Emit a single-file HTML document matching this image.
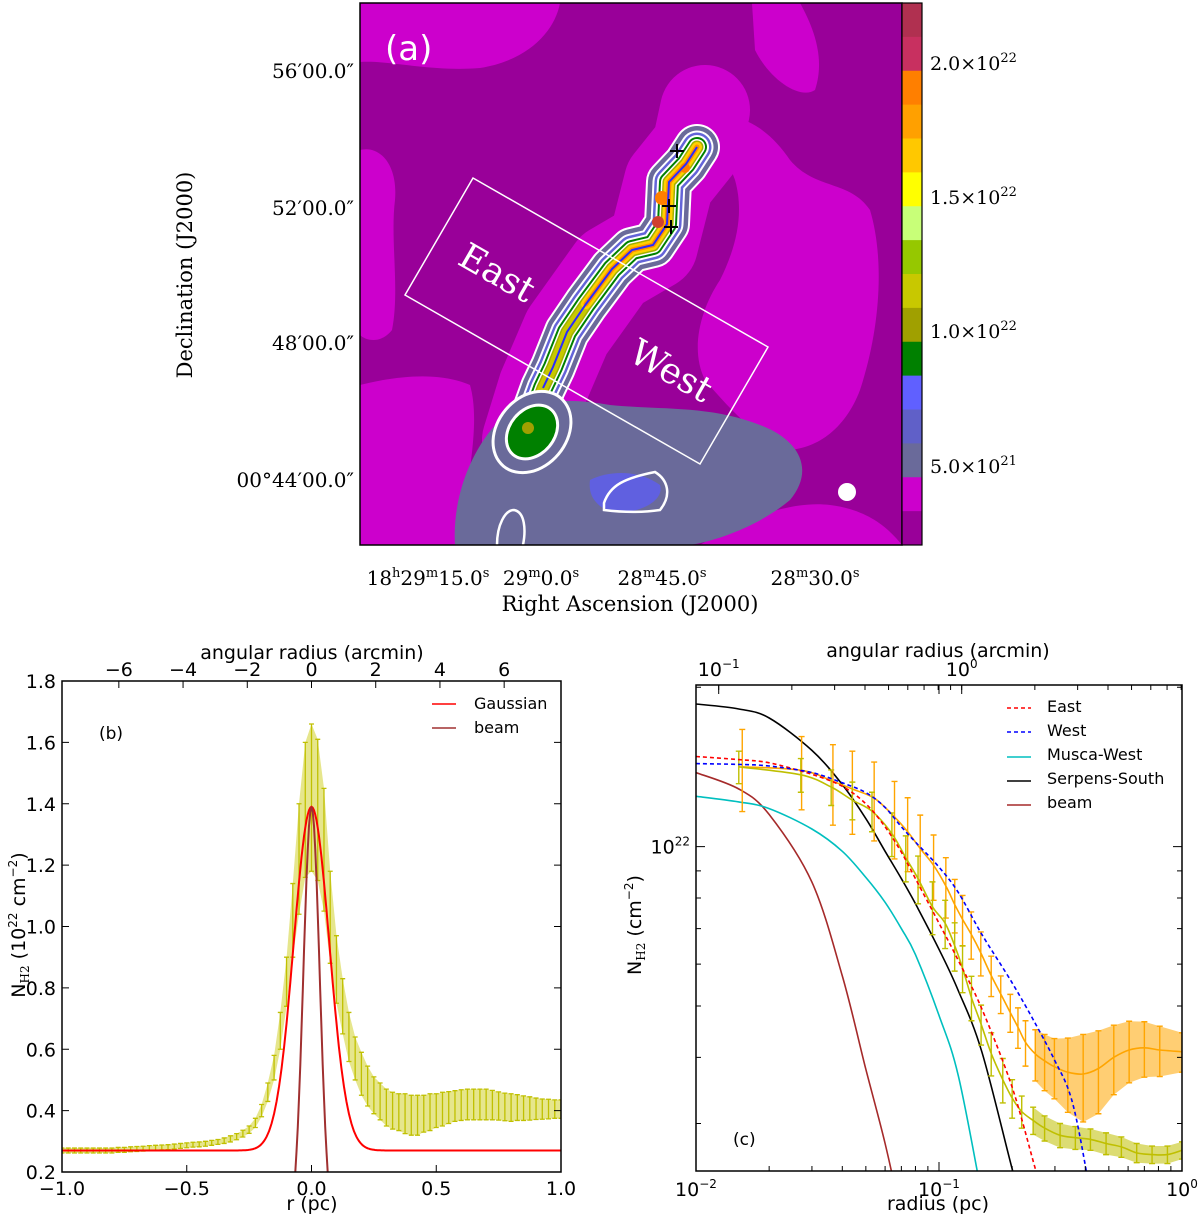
<!DOCTYPE html>
<html><head><meta charset="utf-8"><style>
html,body{margin:0;padding:0;background:#fff;overflow:hidden;width:1200px;height:1221px;}
svg{display:block;}
.ser{font-family:"DejaVu Serif","Liberation Serif",serif;}
.sans{font-family:"DejaVu Sans","Liberation Sans",sans-serif;}
</style></head><body>
<svg id="fig" width="1200" height="1221" viewBox="0 0 1200 1221" xmlns="http://www.w3.org/2000/svg">
<defs>
<clipPath id="clipA"><rect x="360" y="3" width="542" height="542"/></clipPath>
<clipPath id="clipB"><rect x="62" y="681" width="499" height="491"/></clipPath>
<clipPath id="clipC"><rect x="696" y="685" width="486" height="486"/></clipPath>
</defs>

<!-- PANEL A -->
<g id="panelA">
<g clip-path="url(#clipA)">
<rect x="360" y="3" width="542" height="542" fill="#990099"/>
<path d="M360,3 L560,3 C555,30 530,60 480,68 C430,72 390,60 360,62 Z" fill="#cc00cc"/>
<path d="M360,150 C380,145 398,165 395,200 C390,240 400,290 392,330 C380,345 365,340 360,335 Z" fill="#cc00cc"/>
<path d="M752,3 L800,3 C815,30 825,60 815,90 C800,100 770,80 755,50 Z" fill="#cc00cc"/>
<path d="M715,120 C740,110 770,130 790,160 C815,190 850,180 870,210 C885,260 880,330 860,390 C845,430 815,450 785,450 C760,440 730,410 705,380 C690,350 700,310 720,280 C735,250 745,215 735,180 C725,150 705,135 715,120 Z" fill="#cc00cc"/>
<path d="M360,385 C400,375 440,372 470,385 C480,420 470,470 458,545 L360,545 Z" fill="#cc00cc"/>
<path d="M700,545 C740,520 790,500 830,505 C870,510 890,530 902,545 Z" fill="#cc00cc"/>
<path d="M527,440 L543,388 L567,332 L612,269 L653,245 L669,182 L697,147 L705,110" fill="none" stroke="#cc00cc" stroke-width="90" stroke-linecap="round" stroke-linejoin="round"/>
<path d="M455,545 C452,500 470,450 500,420 C530,398 570,398 610,405 C660,410 710,405 760,425 C800,440 815,470 790,500 C760,525 720,540 690,545 Z" fill="#6a6a9a"/>
<path d="M590,480 C610,470 640,470 660,485 C665,500 640,515 610,512 C595,505 588,495 590,480 Z" fill="#6060e0"/>
<g id="filament"></g>
<polyline points="543,388 553,367 567,332 586,304 612,269 632,250 653,245 667,224 669,182 686,164 697,147" fill="none" stroke="#2a2aff" stroke-width="2"/>
<path d="M604,503 C610,485 625,478 655,472 C668,480 672,495 660,510 C640,513 620,512 604,510 Z" fill="none" stroke="#fff" stroke-width="2.5"/>
<path d="M497,545 C497,525 505,510 514,510 C525,512 526,530 523,545" fill="none" stroke="#fff" stroke-width="2.5"/>
<g stroke="#000" stroke-width="2">
<path d="M670,151h14M677,144v14"/><path d="M662,206h14M669,199v14"/><path d="M664,227h14M671,220v14"/>
</g>
<polygon points="473,178 768,347 700,464 405,295" fill="none" stroke="#fff" stroke-width="1.5"/>
<text x="497" y="285" transform="rotate(29.8 497 273)" text-anchor="middle" font-size="36" fill="#fff" class="ser">East</text>
<text x="671" y="383" transform="rotate(29.8 671 371)" text-anchor="middle" font-size="36" fill="#fff" class="ser">West</text>
<circle cx="847" cy="492" r="9" fill="#fff"/>
<text x="385" y="60" font-size="34" fill="#fff" class="sans">(a)</text>
</g>
<rect x="360" y="3" width="542" height="542" fill="none" stroke="#000" stroke-width="1.5"/>
<g id="colorbar"></g>
<g class="ser" font-size="19" fill="#000">
<text x="930" y="70">2.0×10<tspan dy="-8" font-size="13">22</tspan></text>
<text x="930" y="204">1.5×10<tspan dy="-8" font-size="13">22</tspan></text>
<text x="930" y="338">1.0×10<tspan dy="-8" font-size="13">22</tspan></text>
<text x="930" y="473">5.0×10<tspan dy="-8" font-size="13">21</tspan></text>
</g>
<g class="ser" font-size="20" fill="#000" text-anchor="end">
<text x="354" y="78">56′00.0″</text><text x="354" y="215">52′00.0″</text>
<text x="354" y="350">48′00.0″</text><text x="354" y="487">00°44′00.0″</text>
</g>
<text transform="translate(192,275) rotate(-90)" text-anchor="middle" font-size="21" class="ser">Declination (J2000)</text>
<g class="ser" font-size="20" fill="#000" text-anchor="middle">
<text x="428" y="585">18<tspan dy="-8" font-size="13">h</tspan><tspan dy="8">29</tspan><tspan dy="-8" font-size="13">m</tspan><tspan dy="8">15.0</tspan><tspan dy="-8" font-size="13">s</tspan></text>
<text x="541" y="585">29<tspan dy="-8" font-size="13">m</tspan><tspan dy="8">0.0</tspan><tspan dy="-8" font-size="13">s</tspan></text>
<text x="662" y="585">28<tspan dy="-8" font-size="13">m</tspan><tspan dy="8">45.0</tspan><tspan dy="-8" font-size="13">s</tspan></text>
<text x="815" y="585">28<tspan dy="-8" font-size="13">m</tspan><tspan dy="8">30.0</tspan><tspan dy="-8" font-size="13">s</tspan></text>
</g>
<text x="630" y="611" text-anchor="middle" font-size="21" class="ser">Right Ascension (J2000)</text>
</g>

<!-- PANEL B -->
<g id="panelB">
<g clip-path="url(#clipB)">
<g id="bBand"></g>
<g id="bBars"></g>
<path id="bGauss" fill="none" stroke="#ff0000" stroke-width="2"/>
<path id="bBeam" fill="none" stroke="#a03030" stroke-width="2"/>
</g>
<rect x="62" y="681" width="499" height="491" fill="none" stroke="#000" stroke-width="1.5"/>
<g id="bAxes" class="sans" font-size="19"></g>
<text x="312" y="659" text-anchor="middle" class="sans" font-size="19">angular radius (arcmin)</text>
<text x="312" y="1210" text-anchor="middle" class="sans" font-size="19">r (pc)</text>
<text transform="translate(25,925) rotate(-90)" text-anchor="middle" class="sans" font-size="19">N<tspan font-size="12" dy="4" class="ser">H2</tspan><tspan dy="-4"> (10</tspan><tspan font-size="12" dy="-8">22</tspan><tspan dy="8"> cm</tspan><tspan font-size="12" dy="-8">−2</tspan><tspan dy="8">)</tspan></text>
<text x="99" y="739" class="sans" font-size="17">(b)</text>
<g class="sans" font-size="16">
<line x1="432" y1="704" x2="456" y2="704" stroke="#ff0000" stroke-width="1.5"/>
<text x="474" y="709">Gaussian</text>
<line x1="432" y1="728" x2="456" y2="728" stroke="#a03030" stroke-width="1.5"/>
<text x="474" y="733">beam</text>
</g>
</g>

<!-- PANEL C -->
<g id="panelC">
<g clip-path="url(#clipC)">
<g id="cModels"></g>
<g id="cData"></g>
</g>
<rect x="696" y="685" width="486" height="486" fill="none" stroke="#000" stroke-width="1.5"/>
<g id="cAxes" class="sans" font-size="19"></g>
<text x="938" y="657" text-anchor="middle" class="sans" font-size="19">angular radius (arcmin)</text>
<text x="938" y="1210" text-anchor="middle" class="sans" font-size="19">radius (pc)</text>
<text transform="translate(641,925) rotate(-90)" text-anchor="middle" class="sans" font-size="19">N<tspan font-size="12" dy="4" class="ser">H2</tspan><tspan dy="-4"> (cm</tspan><tspan font-size="12" dy="-8">−2</tspan><tspan dy="8">)</tspan></text>
<text x="733" y="1145" class="sans" font-size="17">(c)</text>
<g class="sans" font-size="16">
<line x1="1007" y1="708" x2="1031" y2="708" stroke="#ff0000" stroke-width="1.5" stroke-dasharray="4,3"/><text x="1047" y="712">East</text>
<line x1="1007" y1="732" x2="1031" y2="732" stroke="#0000ff" stroke-width="1.5" stroke-dasharray="4,3"/><text x="1047" y="736">West</text>
<line x1="1007" y1="757" x2="1031" y2="757" stroke="#00bfbf" stroke-width="1.5"/><text x="1047" y="760">Musca-West</text>
<line x1="1007" y1="781" x2="1031" y2="781" stroke="#000" stroke-width="1.5"/><text x="1047" y="784">Serpens-South</text>
<line x1="1007" y1="805" x2="1031" y2="805" stroke="#a52a2a" stroke-width="1.5"/><text x="1047" y="808">beam</text>
</g>
</g>
</svg>
<script>
// ---------- Panel (a) colorbar ----------
const cbarColors = ["#b03050","#c83060","#ff7f00","#ffa000","#ffc800","#ffff00","#c8ff78","#96c800","#c8c800","#a0a000","#008000","#6060ff","#6060c8","#6a6a9a","#cc00cc","#990099"];
// ---------- Panel (b) data ----------
const bR = [-1.000,-0.975,-0.950,-0.925,-0.900,-0.875,-0.850,-0.825,-0.800,-0.775,-0.750,-0.725,-0.700,-0.675,-0.650,-0.625,-0.600,-0.575,-0.550,-0.525,-0.500,-0.475,-0.450,-0.425,-0.400,-0.375,-0.350,-0.325,-0.300,-0.275,-0.250,-0.225,-0.200,-0.175,-0.150,-0.125,-0.100,-0.075,-0.050,-0.025,0.000,0.025,0.050,0.075,0.100,0.125,0.150,0.175,0.200,0.225,0.250,0.275,0.300,0.325,0.350,0.375,0.400,0.425,0.450,0.475,0.500,0.525,0.550,0.575,0.600,0.625,0.650,0.675,0.700,0.725,0.750,0.775,0.800,0.825,0.850,0.875,0.900,0.925,0.950,0.975,1.000];
const bMean = [0.270,0.270,0.270,0.270,0.270,0.270,0.270,0.270,0.270,0.272,0.272,0.274,0.275,0.276,0.278,0.279,0.280,0.281,0.283,0.285,0.287,0.289,0.290,0.292,0.295,0.298,0.302,0.308,0.315,0.325,0.338,0.360,0.400,0.460,0.540,0.660,0.820,1.020,1.220,1.380,1.420,1.380,1.250,1.030,0.860,0.740,0.640,0.570,0.520,0.480,0.450,0.430,0.410,0.400,0.395,0.390,0.385,0.385,0.390,0.395,0.400,0.405,0.410,0.415,0.418,0.420,0.420,0.420,0.420,0.418,0.415,0.412,0.410,0.410,0.408,0.407,0.406,0.405,0.405,0.405,0.405];
const bErr = [0.008,0.008,0.008,0.008,0.008,0.008,0.008,0.008,0.008,0.008,0.008,0.008,0.008,0.008,0.008,0.008,0.008,0.008,0.008,0.008,0.008,0.008,0.008,0.008,0.008,0.008,0.009,0.010,0.010,0.011,0.012,0.015,0.020,0.030,0.040,0.060,0.080,0.120,0.180,0.220,0.240,0.230,0.200,0.150,0.110,0.090,0.080,0.070,0.070,0.065,0.060,0.060,0.060,0.060,0.060,0.065,0.065,0.065,0.060,0.060,0.055,0.055,0.052,0.050,0.050,0.050,0.050,0.050,0.050,0.048,0.046,0.045,0.045,0.042,0.040,0.038,0.035,0.033,0.032,0.030,0.030];
const bGaussParams = [1.39, 0.071, 0.27];   // peak, sigma (pc), baseline
const bBeamParams = [1.39, 0.033];          // peak, sigma (pc)
const bYTicks = [0.2,0.4,0.6,0.8,1.0,1.2,1.4,1.6,1.8];
const bXTicks = [-1.0,-0.5,0.0,0.5,1.0];
const bTopTicks = [-6,-4,-2,0,2,4,6];
const pcPerArcmin = 0.1287;
// ---------- Panel (c) data (N in 1e22 cm^-2) ----------
const cEastR = [0.015,0.027,0.036,0.044,0.053,0.064,0.073,0.082,0.094,0.106,0.116,0.125,0.136,0.149,0.164,0.183,0.200,0.219,0.244,0.272,0.315,0.364,0.420,0.487,0.563,0.651,0.753,0.871,1.000];
const cEastN = [1.415,1.367,1.296,1.224,1.167,1.058,0.953,0.870,0.770,0.717,0.650,0.590,0.519,0.462,0.407,0.363,0.335,0.316,0.304,0.294,0.285,0.282,0.280,0.275,0.271,0.264,0.262,0.262,0.267];
const cEastErr = [0.10,0.10,0.10,0.10,0.10,0.10,0.095,0.09,0.088,0.075,0.068,0.06,0.05,0.04,0.038,0.035,0.028,0.022,0.018,0.016,0.015,0.014,0.013,0.013,0.012,0.011,0.010,0.010,0.010];
const cWestR = [0.0155,0.0272,0.0366,0.044,0.0541,0.0656,0.0743,0.0837,0.095,0.1067,0.1161,0.125,0.1357,0.1486,0.164,0.1795,0.1965,0.2113,0.227,0.249,0.272,0.2985,0.339,0.392,0.453,0.524,0.606,0.70,0.81,1.0];
const cWestN = [1.415,1.394,1.328,1.285,1.235,1.138,1.067,0.992,0.922,0.843,0.777,0.729,0.683,0.630,0.571,0.527,0.486,0.456,0.427,0.406,0.394,0.384,0.375,0.372,0.381,0.400,0.413,0.417,0.413,0.410];
const cWestErr = [0.25,0.22,0.23,0.23,0.21,0.19,0.17,0.155,0.13,0.11,0.09,0.08,0.07,0.06,0.05,0.043,0.04,0.04,0.042,0.045,0.048,0.05,0.06,0.07,0.068,0.06,0.055,0.05,0.045,0.035];
const cModelR = [0.010,0.015,0.020,0.030,0.040,0.050,0.060,0.070,0.080,0.100,0.120,0.150,0.200,0.250,0.300,0.350,0.400];
const cEastModel = [1.48,1.46,1.44,1.37,1.30,1.205,1.09,0.976,0.87,0.717,0.61,0.494,0.351,0.245,null,null,null];
const cWestModel = [1.435,1.43,1.42,1.38,1.32,1.265,1.186,1.09,1.02,0.915,0.82,0.683,0.553,0.462,0.394,0.335,0.25];
const cSerpens = [1.86,1.82,1.75,1.52,1.31,1.13,0.98,0.87,0.78,0.64,0.535,0.41,0.246,null,null,null,null];
const cMusca = [1.245,1.215,1.18,1.08,0.98,0.875,0.785,0.70,0.625,0.48,0.37,0.22,null,null,null,null,null];
const cBeam = [1.38,1.285,1.15,0.857,0.57,0.38,0.275,0.20,null,null,null,null,null,null,null,null,null];
const cYMinor = [0.3,0.4,0.5,0.6,0.7,0.8,0.9,2.0];

const NS = "http://www.w3.org/2000/svg";
function mk(tag, attrs, parent){const e=document.createElementNS(NS,tag);for(const k in attrs)e.setAttribute(k,attrs[k]);parent.appendChild(e);return e;}
function smooth(pts){
  if(pts.length<2) return '';
  let d='M'+pts[0][0].toFixed(1)+','+pts[0][1].toFixed(1);
  for(let i=0;i<pts.length-1;i++){
    const p0=pts[Math.max(0,i-1)], p1=pts[i], p2=pts[i+1], p3=pts[Math.min(pts.length-1,i+2)];
    const c1=[p1[0]+(p2[0]-p0[0])/6, p1[1]+(p2[1]-p0[1])/6];
    const c2=[p2[0]-(p3[0]-p1[0])/6, p2[1]-(p3[1]-p1[1])/6];
    d+='C'+c1[0].toFixed(1)+','+c1[1].toFixed(1)+' '+c2[0].toFixed(1)+','+c2[1].toFixed(1)+' '+p2[0].toFixed(1)+','+p2[1].toFixed(1);
  }
  return d;
}

// ---- Panel A: filament layers ----
const fil = document.getElementById('filament');
const spine = "M527,440 L535,410 L543,388 L553,367 L567,332 L586,304 L612,269 L632,250 L653,245 L667,224 L669,182 L686,164 L697,147";
const upper = "M586,304 L612,269 L632,250 L653,245 L667,224 L669,182 L686,164 L697,147";
const layers = [["#ffffff",46,spine],["#6a6a9a",42,spine],["#ffffff",33,spine],["#6464d8",29,spine],["#ffffff",24,spine],["#008000",20,spine],["#ffffff",16,spine],["#a0b000",13,spine],["#c8c800",10,spine],["#ffd000",10,upper],["#ff9000",5,upper]];
layers.forEach(function(L){
  const p = mk('path',{d:L[2],fill:'none',stroke:L[0],'stroke-width':L[1],'stroke-linecap':'round','stroke-linejoin':'round'},fil);
  
  
});
const blobLayers=[["#ffffff",46,36],["#6a6a9a",43,33],["#ffffff",31,24],["#008000",28,21]];
blobLayers.forEach(function(L){
  const e = mk('ellipse',{cx:532,cy:432,rx:L[1],ry:L[2],fill:L[0],transform:'rotate(-50 532 432)'},fil);
  
  
});
const spot = mk('circle',{cx:528,cy:428,r:6,fill:'#a0a000'},fil);


[[662,198,7,'#ff7f00'],[658,222,6,'#d04030'],[685,168,5,'#ff7f00']].forEach(function(s){
  const c = mk('circle',{cx:s[0],cy:s[1],r:s[2],fill:s[3]},fil);
  
  
});

// ---- colorbar ----
const cb = document.getElementById('colorbar');
const segH = 542/cbarColors.length;
cbarColors.forEach(function(c,i){
  const r = mk('rect',{x:902,y:3+i*segH,width:20,height:segH+0.5,fill:c},cb);
  
  
});
mk('rect',{x:902,y:3,width:20,height:542,fill:'none',stroke:'#000','stroke-width':1.2},cb);

// ---- Panel B ----
const bx = r => 62 + (r+1)/2*499;
const by = v => 1172 - (v-0.2)/1.6*491;
const band = document.getElementById('bBand');
let up='', dn='';
bR.forEach(function(r,i){ up += (i?'L':'M')+bx(r).toFixed(1)+','+by(bMean[i]+bErr[i]).toFixed(1); });
for(let i=bR.length-1;i>=0;i--){ dn += 'L'+bx(bR[i]).toFixed(1)+','+by(bMean[i]-bErr[i]).toFixed(1); }
const bandP = mk('path',{d:up+dn+'Z',fill:'#c8c800','fill-opacity':0.45,stroke:'none'},band);


const bars = document.getElementById('bBars');
bR.forEach(function(r,i){
  const x=bx(r), y1=by(bMean[i]+bErr[i]), y2=by(bMean[i]-bErr[i]);
  const g = mk('path',{d:`M${x},${y1}V${y2}M${x-2.5},${y1}h5M${x-2.5},${y2}h5`,stroke:'#c0c000','stroke-width':1.3,fill:'none'},bars);
  
  
});
let gd='', bd='';
for(let k=0;k<=400;k++){
  const r=-1+k*0.005;
  const g=bGaussParams[2]+(bGaussParams[0]-bGaussParams[2])*Math.exp(-r*r/(2*bGaussParams[1]*bGaussParams[1]));
  gd += (k?'L':'M')+bx(r).toFixed(1)+','+by(g).toFixed(1);
  if(Math.abs(r)<=0.09){const b=bBeamParams[0]*Math.exp(-r*r/(2*bBeamParams[1]*bBeamParams[1])); bd += (bd?'L':'M')+bx(r).toFixed(1)+','+by(b).toFixed(1);}
}
document.getElementById('bGauss').setAttribute('d',gd);
document.getElementById('bBeam').setAttribute('d',bd);
const bAx = document.getElementById('bAxes');
bYTicks.forEach(function(v){
  const y=by(v);
  mk('path',{d:`M62,${y}h7M561,${y}h-7`,stroke:'#000','stroke-width':1},bAx);
  const t=mk('text',{x:56,y:y+7,'text-anchor':'end'},bAx); t.textContent=v.toFixed(1);
  
  
});
bXTicks.forEach(function(v){
  const x=bx(v);
  mk('path',{d:`M${x},1172v-7`,stroke:'#000','stroke-width':1},bAx);
  const t=mk('text',{x:x,y:1195,'text-anchor':'middle'},bAx); t.textContent=(v<0?'−':'')+Math.abs(v).toFixed(1);
  
  
});
bTopTicks.forEach(function(a){
  const x=bx(a*pcPerArcmin);
  mk('path',{d:`M${x},681v7`,stroke:'#000','stroke-width':1},bAx);
  const t=mk('text',{x:x,y:676,'text-anchor':'middle'},bAx); t.textContent=(a<0?'−':'')+Math.abs(a);
  
  
});

// ---- Panel C ----
const LMIN=Math.log10(0.244), LMAX=Math.log10(2.02);
const cx = r => 696 + (Math.log10(r)+2)/2*486;
const cy = n => 1171 - (Math.log10(n)-LMIN)/(LMAX-LMIN)*486;
const cM = document.getElementById('cModels');
function modelPts(vals){
  const pts=[];
  cModelR.forEach(function(r,i){ if(vals[i]!==null) pts.push([cx(r),cy(vals[i])]); });
  const last = vals.findIndex(v=>v===null);
  if(last>0){
    const n=pts.length, a=pts[n-2], b=pts[n-1];
    pts.push([b[0]+(b[0]-a[0])*0.8, b[1]+(b[1]-a[1])*0.8]);
  } else {
    const n=pts.length, a=pts[n-2], b=pts[n-1];
    pts.push([b[0]+(b[0]-a[0]), b[1]+(b[1]-a[1])*1.3]);
  }
  return pts;
}
function modelLine(vals, color, dash, name, parent){
  const attrs={d:smooth(modelPts(vals)),fill:'none',stroke:color,'stroke-width':1.6};
  if(dash) attrs['stroke-dasharray']=dash;
  const p=mk('path',attrs,parent);
  
  
}
modelLine(cBeam,'#a52a2a',null,'beam-model-line',cM);
modelLine(cMusca,'#00bfbf',null,'musca-west-line',cM);
modelLine(cSerpens,'#000000',null,'serpens-south-line',cM);
const cD = document.getElementById('cData');
function dataSeries(R,N,E,color,name,bandFrom){
  let up='',dn='';
  for(let i=bandFrom;i<R.length;i++){ up += (up?'L':'M')+cx(R[i]).toFixed(1)+','+cy(N[i]+E[i]).toFixed(1); }
  for(let i=R.length-1;i>=bandFrom;i--){ dn += 'L'+cx(R[i]).toFixed(1)+','+cy(N[i]-E[i]).toFixed(1); }
  const bp=mk('path',{d:up+dn+'Z',fill:color,'fill-opacity':0.55,stroke:'none'},cD);
  
  
  R.forEach(function(r,i){
    const x=cx(r), y1=cy(N[i]+E[i]), y2=cy(N[i]-E[i]);
    const g=mk('path',{d:`M${x},${y1}V${y2}M${x-3},${y1}h6M${x-3},${y2}h6`,stroke:color,'stroke-width':1.4,fill:'none'},cD);
    
    
  });
  const pts=R.map((r,i)=>[cx(r),cy(N[i])]);
  const l=mk('path',{d:smooth(pts),fill:'none',stroke:color,'stroke-width':1.6},cD);
  
  
}
dataSeries(cWestR,cWestN,cWestErr,'#ffa500','west-data',19);
dataSeries(cEastR,cEastN,cEastErr,'#bfbf00','east-data',18);
modelLine(cEastModel,'#ff0000','4,3','east-model-line',cD);
modelLine(cWestModel,'#0000ff','4,3','west-model-line',cD);
const cAx=document.getElementById('cAxes');
[0.01,0.1,1].forEach(function(r,i){
  const x=cx(r);
  mk('path',{d:`M${x},1171v-9M${x},685v9`,stroke:'#000','stroke-width':1},cAx);
  const t=mk('text',{x:x,y:1196,'text-anchor':'middle'},cAx);
  t.innerHTML='10<tspan font-size="12" dy="-8">'+(['−2','−1','0'][i])+'</tspan>';
  
  
});
for(let dec=-2;dec<0;dec++){ for(let m=2;m<10;m++){ const x=cx(m*Math.pow(10,dec)); mk('path',{d:`M${x},1171v-5`,stroke:'#000','stroke-width':1},cAx);} }
[0.1,1].forEach(function(a,i){
  const x=cx(a*0.124);
  mk('path',{d:`M${x},685v9`,stroke:'#000','stroke-width':1},cAx);
  const t=mk('text',{x:x,y:676,'text-anchor':'middle'},cAx);
  t.innerHTML='10<tspan font-size="12" dy="-8">'+(['−1','0'][i])+'</tspan>';
  
  
});
for(let dec=-1;dec<1;dec++){ for(let m=1;m<10;m++){ const a=m*Math.pow(10,dec); const x=cx(a*0.124); if(x>696&&x<1182) mk('path',{d:`M${x},685v5`,stroke:'#000','stroke-width':1},cAx);} }
{
  const y=cy(1.0);
  mk('path',{d:`M696,${y}h9M1182,${y}h-9`,stroke:'#000','stroke-width':1},cAx);
  const t=mk('text',{x:690,y:y+7,'text-anchor':'end'},cAx);
  t.innerHTML='10<tspan font-size="12" dy="-8">22</tspan>';
  
  
}
cYMinor.forEach(function(n){ const y=cy(n); mk('path',{d:`M696,${y}h5M1182,${y}h-5`,stroke:'#000','stroke-width':1},cAx); });
</script>
</body></html>
